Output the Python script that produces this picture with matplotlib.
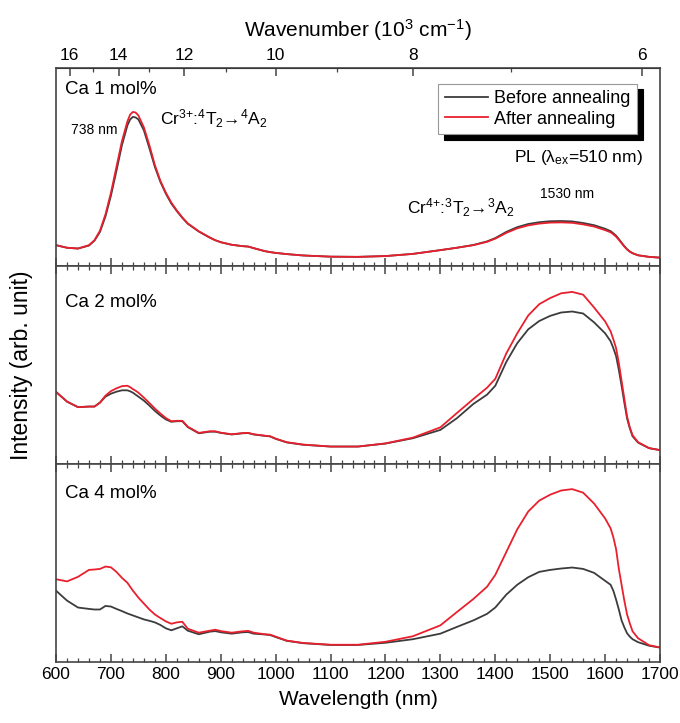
import numpy as np
import matplotlib.pyplot as plt
from matplotlib.ticker import MultipleLocator, FixedLocator

plt.rcParams['font.family'] = ['Liberation Sans', 'DejaVu Sans']
plt.rcParams['mathtext.fontset'] = 'custom'
plt.rcParams['mathtext.rm'] = 'Liberation Sans'
plt.rcParams['mathtext.it'] = 'Liberation Sans:italic'
plt.rcParams['mathtext.default'] = 'regular'

# wavelength grid (nm)
wl = [600, 620, 640, 660, 670, 680, 690, 700, 710, 720, 730, 735, 740, 745, 750, 760,
      770, 780, 790, 800, 810, 820, 830, 840, 860, 880, 890, 900, 920, 940, 950, 960,
      980, 990, 1000, 1020, 1050, 1100, 1150, 1200, 1250, 1300, 1330, 1360, 1385,
      1400, 1420, 1440, 1460, 1480, 1500, 1520, 1540, 1560, 1580, 1600, 1610, 1615,
      1620, 1625, 1630, 1635, 1640, 1645, 1650, 1660, 1680, 1700]

# Ca 1 mol%
ca1_before = [0.105, 0.092, 0.088, 0.103, 0.128, 0.172, 0.25, 0.355, 0.48, 0.61, 0.71,
              0.74, 0.753, 0.75, 0.74, 0.685, 0.595, 0.50, 0.425, 0.365, 0.315, 0.277,
              0.243, 0.213, 0.174, 0.143, 0.13, 0.12, 0.107, 0.10, 0.098, 0.09, 0.075,
              0.07, 0.066, 0.06, 0.053, 0.047, 0.046, 0.05, 0.061, 0.08, 0.092, 0.106,
              0.124, 0.141, 0.172, 0.196, 0.212, 0.221, 0.226, 0.227, 0.225, 0.217,
              0.206, 0.188, 0.176, 0.165, 0.153, 0.136, 0.118, 0.10, 0.085, 0.073,
              0.065, 0.054, 0.046, 0.042]
ca1_after = [0.105, 0.092, 0.088, 0.105, 0.13, 0.178, 0.26, 0.37, 0.50, 0.63, 0.73,
             0.765, 0.778, 0.775, 0.76, 0.70, 0.61, 0.51, 0.43, 0.37, 0.32, 0.28, 0.245,
             0.215, 0.175, 0.144, 0.13, 0.12, 0.107, 0.10, 0.098, 0.09, 0.075, 0.07,
             0.066, 0.06, 0.053, 0.047, 0.046, 0.05, 0.061, 0.08, 0.092, 0.105, 0.122,
             0.138, 0.167, 0.19, 0.205, 0.214, 0.219, 0.22, 0.218, 0.21, 0.199, 0.181,
             0.17, 0.16, 0.148, 0.132, 0.115, 0.098, 0.083, 0.072, 0.064, 0.054, 0.046,
             0.042]

# Ca 2 mol%
ca2_before = [0.364, 0.315, 0.287, 0.29, 0.29, 0.31, 0.34, 0.355, 0.365, 0.372, 0.372,
              0.367, 0.36, 0.35, 0.34, 0.32, 0.295, 0.268, 0.245, 0.225, 0.213, 0.216,
              0.216, 0.186, 0.155, 0.163, 0.163, 0.157, 0.149, 0.155, 0.156, 0.149,
              0.142, 0.139, 0.127, 0.109, 0.097, 0.088, 0.088, 0.103, 0.13, 0.172, 0.231,
              0.303, 0.35, 0.395, 0.515, 0.61, 0.68, 0.722, 0.748, 0.765, 0.77, 0.76,
              0.715, 0.66, 0.62, 0.585, 0.545, 0.475, 0.395, 0.31, 0.23, 0.18, 0.14,
              0.108, 0.08, 0.07]
ca2_after = [0.364, 0.315, 0.287, 0.29, 0.29, 0.31, 0.345, 0.368, 0.382, 0.393, 0.395,
             0.388, 0.378, 0.37, 0.36, 0.335, 0.308, 0.28, 0.255, 0.232, 0.216, 0.218,
             0.218, 0.188, 0.157, 0.165, 0.165, 0.158, 0.15, 0.156, 0.157, 0.15, 0.143,
             0.14, 0.128, 0.11, 0.098, 0.088, 0.088, 0.104, 0.133, 0.185, 0.257, 0.328,
             0.385, 0.43, 0.558, 0.66, 0.75, 0.807, 0.838, 0.862, 0.869, 0.855, 0.79,
             0.72, 0.67, 0.63, 0.585, 0.51, 0.42, 0.33, 0.24, 0.185, 0.145, 0.11, 0.08,
             0.07]

# Ca 4 mol%
ca4_before = [0.36, 0.31, 0.275, 0.268, 0.265, 0.265, 0.283, 0.28, 0.268, 0.257, 0.245,
              0.24, 0.235, 0.23, 0.225, 0.215, 0.208, 0.2, 0.187, 0.17, 0.16, 0.17, 0.18,
              0.158, 0.14, 0.153, 0.156, 0.15, 0.143, 0.15, 0.151, 0.143, 0.139, 0.136,
              0.126, 0.107, 0.095, 0.086, 0.086, 0.097, 0.115, 0.143, 0.177, 0.21, 0.243,
              0.275, 0.34, 0.39, 0.428, 0.455, 0.465, 0.472, 0.477, 0.47, 0.45, 0.41,
              0.39, 0.36, 0.315, 0.265, 0.21, 0.175, 0.145, 0.128, 0.115, 0.1, 0.082,
              0.073]
ca4_after = [0.418, 0.407, 0.43, 0.465, 0.467, 0.47, 0.482, 0.478, 0.455, 0.425, 0.40,
             0.38, 0.36, 0.343, 0.325, 0.295, 0.265, 0.24, 0.222, 0.205, 0.193, 0.2,
             0.203, 0.168, 0.148, 0.158, 0.163, 0.156, 0.148, 0.155, 0.157, 0.148, 0.14,
             0.138, 0.128, 0.108, 0.096, 0.087, 0.087, 0.102, 0.13, 0.185, 0.252, 0.318,
             0.38, 0.44, 0.555, 0.67, 0.76, 0.815, 0.845, 0.866, 0.873, 0.855, 0.8,
             0.725, 0.675, 0.63, 0.57, 0.47, 0.39, 0.31, 0.24, 0.195, 0.155, 0.12, 0.085,
             0.073]

panels = [('Ca 1 mol%', ca1_before, ca1_after, 0.893),
          ('Ca 2 mol%', ca2_before, ca2_after, 0.818),
          ('Ca 4 mol%', ca4_before, ca4_after, 0.85)]

c_before = '#3c3c3c'
c_after = '#e8202e'
spine_c = '#444444'

fig = plt.figure(figsize=(6.8, 7.23), dpi=100)
fig.subplots_adjust(left=0.0824, right=0.9706, top=0.906, bottom=0.0844, hspace=0)
axes = fig.subplots(3, 1, sharex=True)

for i, (ax, (name, before, after, ly)) in enumerate(zip(axes, panels)):
    ax.plot(wl, before, color=c_before, lw=1.3, label='Before annealing')
    ax.plot(wl, after, color=c_after, lw=1.3, label='After annealing')
    ax.set_xlim(600, 1700)
    ax.set_ylim(0, 1)
    ax.set_yticks([])
    ax.xaxis.set_major_locator(MultipleLocator(100))
    ax.xaxis.set_minor_locator(MultipleLocator(20))
    ax.tick_params(axis='x', which='both', direction='in', top=(i > 0), bottom=True,
                   colors=spine_c, labelcolor='black', labelsize=12.5)
    ax.tick_params(axis='x', which='major', length=6, width=1.1)
    ax.tick_params(axis='x', which='minor', length=3, width=0.9)
    for s in ax.spines.values():
        s.set_color(spine_c)
        s.set_linewidth(1.2)
    ax.text(0.015, ly, name, transform=ax.transAxes, fontsize=13.5, va='center')

ax1 = axes[0]
ax1.text(712, 0.685, '738 nm', fontsize=10, ha='right', va='center')
ax1.text(789, 0.746, 'Cr$^{3{+}}$:$^{4}$T$_{2}$\u2192$^{4}$A$_{2}$', fontsize=12.5, va='center')
ax1.text(1669, 0.548, 'PL ($\\lambda_{ex}$=510 nm)', fontsize=12.5, ha='right', va='center')
ax1.text(1531, 0.365, '1530 nm', fontsize=10, ha='center', va='center')
ax1.text(1239, 0.294, 'Cr$^{4{+}}$:$^{3}$T$_{2}$\u2192$^{3}$A$_{2}$', fontsize=12.5, va='center')

leg = ax1.legend(loc='upper right', bbox_to_anchor=(0.962, 0.92), borderaxespad=0,
                 fontsize=13, handlelength=2.4, handletextpad=0.35, labelspacing=0.2,
                 fancybox=False, borderpad=0.35,
                 shadow={'color': 'black', 'alpha': 1, 'ox': 4, 'oy': -4})
leg.get_frame().set_edgecolor('#999999')
leg.get_frame().set_linewidth(0.8)


def to_wn(x):
    x = np.asarray(x, dtype=float)
    with np.errstate(divide='ignore', invalid='ignore'):
        return 1e4 / x


top = ax1.secondary_xaxis('top', functions=(to_wn, to_wn))
top.xaxis.set_major_locator(FixedLocator([16, 14, 12, 10, 8, 6]))
top.xaxis.set_minor_locator(FixedLocator([15, 13, 11, 9, 7]))
top.tick_params(which='both', direction='in', colors=spine_c, labelcolor='black',
                labelsize=12.5)
top.tick_params(which='major', length=6, width=1.1)
top.tick_params(which='minor', length=3, width=0.9)
top.set_xlabel('Wavenumber (10$^{3}$ cm$^{-1}$)', fontsize=15, labelpad=8)

axes[2].set_xlabel('Wavelength (nm)', fontsize=15, labelpad=6)
fig.text(0.032, 0.495, 'Intensity (arb. unit)', rotation=90, fontsize=16.5,
         ha='center', va='center')

fig.savefig('out.png', dpi=100)
